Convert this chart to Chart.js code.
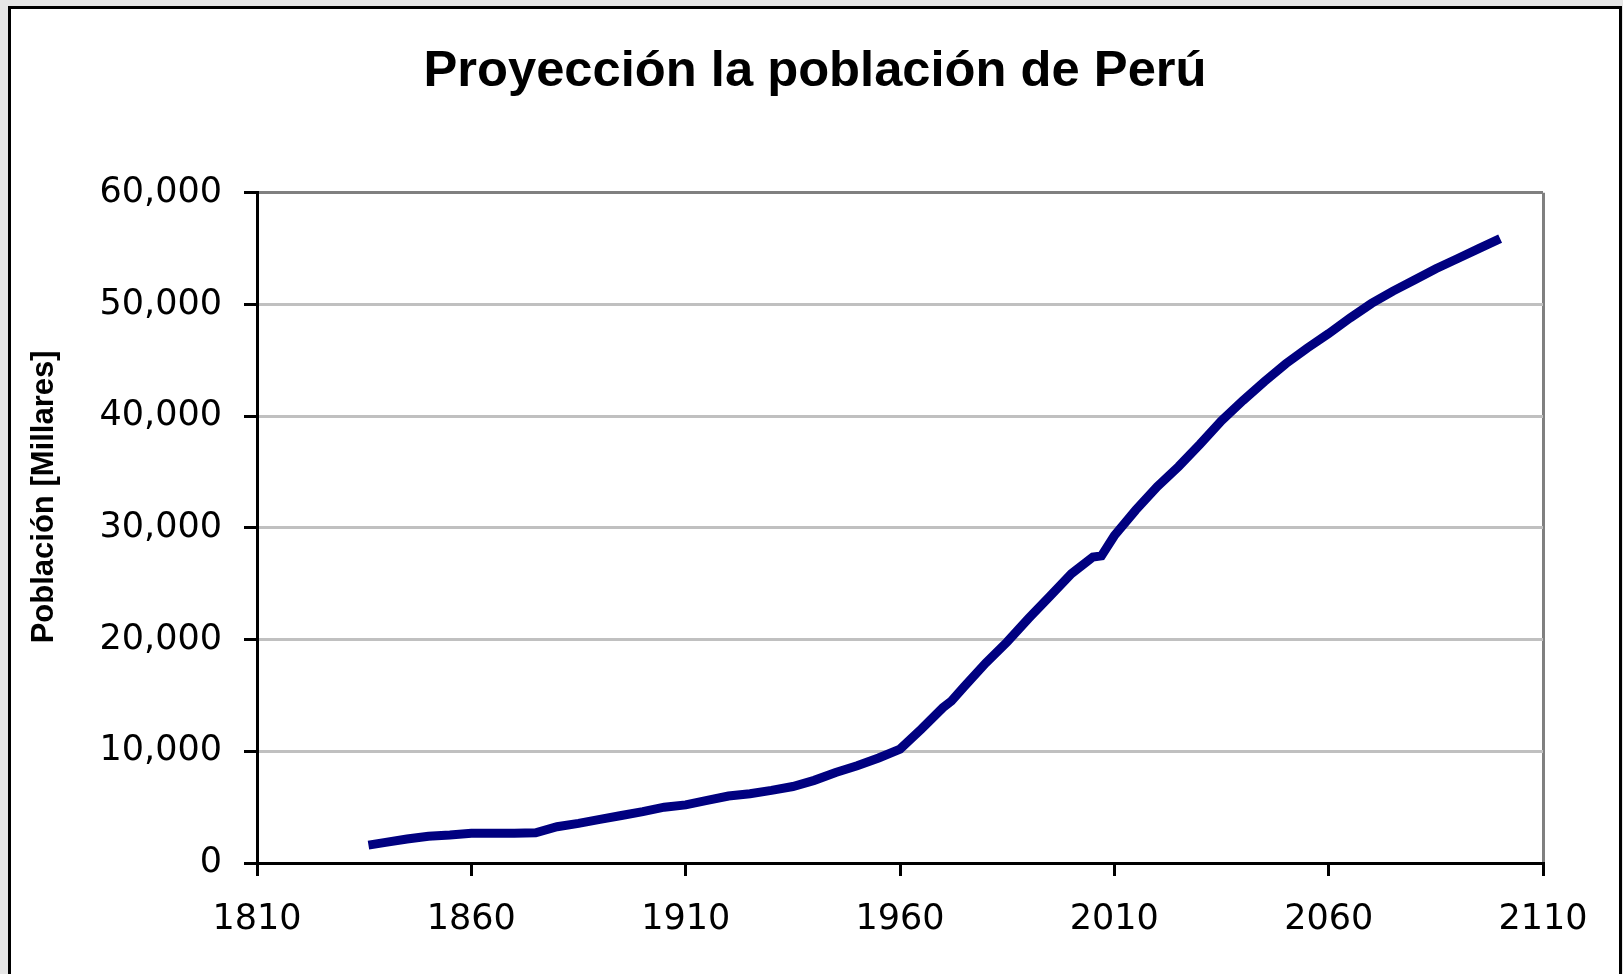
<!DOCTYPE html>
<html>
<head>
<meta charset="utf-8">
<script src="https://cdn.jsdelivr.net/npm/chart.js@4/dist/chart.umd.min.js"></script>
<style>
  html, body { margin: 0; padding: 0; overflow: hidden; }
  body { width: 1623px; height: 974px; background: #e6e6e6; position: relative; }
  #panel {
    position: absolute; left: 8px; top: 6px; width: 1608px; height: 1000px;
    background: #fff; border: 3px solid #000; border-bottom: none;
  }
  #popChart { position: absolute; left: 0; top: 0; }
</style>
</head>
<body>
<div id="panel"></div>
<canvas id="popChart" width="1623" height="974"></canvas>
<script>
// Years (x axis)
const years = [
  1836, 1840, 1845, 1850, 1855, 1860, 1865, 1870, 1875, 1880,
  1885, 1890, 1895, 1900, 1905, 1910, 1915, 1920, 1925, 1930,
  1935, 1940, 1945, 1950, 1955, 1960, 1965, 1970, 1972, 1975,
  1980, 1985, 1990, 1995, 2000, 2005, 2007, 2010, 2015, 2020,
  2025, 2030, 2035, 2040, 2045, 2050, 2055, 2060, 2065, 2070,
  2075, 2080, 2085, 2090, 2095, 2100
];
// Population in thousands (Millares)
const population = [
  1600, 1850, 2150, 2400, 2500, 2660, 2660, 2660, 2700, 3250,
  3550, 3900, 4250, 4600, 5000, 5200, 5600, 6000, 6200, 6500,
  6850, 7400, 8100, 8700, 9400, 10200, 12000, 13900, 14500, 15800,
  17900, 19800, 21900, 23900, 25900, 27400, 27500, 29300, 31600, 33700,
  35500, 37500, 39600, 41400, 43100, 44700, 46100, 47400, 48800, 50100,
  51200, 52200, 53200, 54100, 55000, 55900
];
const yTicks = [0, 10000, 20000, 30000, 40000, 50000, 60000];
const xTicks = [1810, 1860, 1910, 1960, 2010, 2060, 2110];
const yTitle = "Población [Millares]";

const points = years.map((y, i) => ({ x: y, y: population[i] }));

// The original's axis title sits a bit above the middle of the plot,
// so it is drawn here instead of with the scale's own title option.
const yTitlePlugin = {
  id: "yTitle",
  afterDraw(chart) {
    const { ctx, chartArea } = chart;
    const midY = (chartArea.top + chartArea.bottom) / 2 - 31;
    ctx.save();
    ctx.translate(44, midY);
    ctx.rotate(-Math.PI / 2);
    ctx.font = "bold 31px 'Liberation Sans', Arial, sans-serif";
    ctx.fillStyle = "#000";
    ctx.textAlign = "center";
    ctx.textBaseline = "middle";
    ctx.fillText(yTitle, 0, 0);
    ctx.restore();
  },
};

const ctx = document.getElementById("popChart").getContext("2d");
new Chart(ctx, {
  type: "line",
  data: {
    datasets: [
      {
        label: "Población",
        data: points,
        borderColor: "#000080",
        borderWidth: 9,
        pointRadius: 0,
        tension: 0,
        fill: false,
      },
    ],
  },
  plugins: [yTitlePlugin],
  options: {
    responsive: false,
    animation: false,
    devicePixelRatio: 1,
    // left padding keeps the main title centred where the original has it
    layout: { padding: { left: 87, right: 80, top: 0, bottom: 0 } },
    plugins: {
      legend: { display: false },
      tooltip: { enabled: false },
      title: {
        display: true,
        text: "Proyección la población de Perú",
        color: "#000",
        font: { family: "'Liberation Sans', Arial, sans-serif", size: 50.7, weight: "bold" },
        padding: { top: 42, bottom: 90 },
      },
    },
    scales: {
      x: {
        type: "linear",
        min: xTicks[0],
        max: xTicks[xTicks.length - 1],
        afterBuildTicks: (scale) => {
          scale.ticks = xTicks.map((v) => ({ value: v }));
        },
        afterFit: (scale) => {
          scale.height = 111;
        },
        ticks: {
          color: "#000",
          padding: 23,
          maxRotation: 0,
          font: { family: "'DejaVu Sans', sans-serif", size: 35 },
          callback: (v) => String(v),
        },
        grid: {
          drawOnChartArea: true,
          color: (c) => (c.tick && c.tick.value === 2110 ? "#808080" : "rgba(0,0,0,0)"),
          lineWidth: 3,
          tickColor: "#000",
          tickLength: 13,
          tickWidth: 3,
        },
        border: { display: true, color: "#000", width: 3 },
      },
      y: {
        min: yTicks[0],
        max: yTicks[yTicks.length - 1],
        afterBuildTicks: (scale) => {
          scale.ticks = yTicks.map((v) => ({ value: v }));
        },
        afterFit: (scale) => {
          scale.width = 170;
        },
        ticks: {
          color: "#000",
          padding: 22,
          font: { family: "'DejaVu Sans', sans-serif", size: 35 },
          callback: (v) => v.toLocaleString("en-US"),
        },
        grid: {
          color: (c) => {
            if (!c.tick) return "#c0c0c0";
            if (c.tick.value === 60000) return "#808080";
            if (c.tick.value === 0) return "#000";
            return "#c0c0c0";
          },
          lineWidth: 3,
          tickColor: "#000",
          tickLength: 13,
          tickWidth: 3,
        },
        border: { display: true, color: "#000", width: 3 },
        title: { display: false },
      },
    },
  },
});
</script>
</body>
</html>
